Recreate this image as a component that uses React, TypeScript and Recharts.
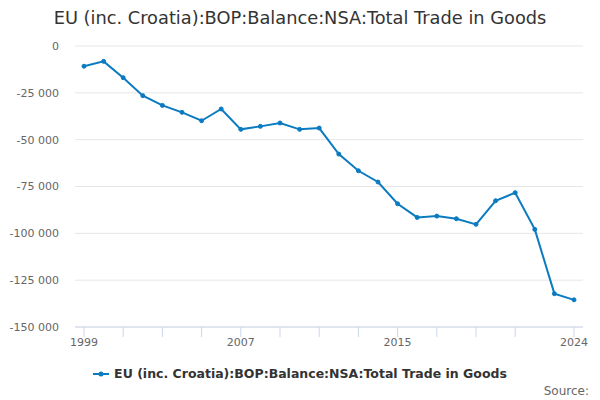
import React from 'react';
import { LineChart, Line, XAxis, YAxis, CartesianGrid } from 'recharts';

const years = [1999, 2000, 2001, 2002, 2003, 2004, 2005, 2006, 2007, 2008, 2009, 2010, 2011, 2012, 2013, 2014, 2015, 2016, 2017, 2018, 2019, 2020, 2021, 2022, 2023, 2024];
const balance = [-10800, -8200, -16900, -26500, -31700, -35400, -39900, -33600, -44500, -42900, -41100, -44500, -43800, -57700, -66600, -72600, -84200, -91500, -90800, -92200, -95200, -82600, -78300, -97900, -132200, -135500];
const xTicks = [1999, 2001, 2003, 2005, 2007, 2009, 2011, 2013, 2015, 2017, 2019, 2021, 2024];
const xLabels = [1999, 2007, 2015, 2024];
const yTicks = [0, -25000, -50000, -75000, -100000, -125000, -150000];
const seriesName = 'EU (inc. Croatia):BOP:Balance:NSA:Total Trade in Goods';
const titleText = 'EU (inc. Croatia):BOP:Balance:NSA:Total Trade in Goods';

const data = years.map((y, i) => ({ year: y, value: balance[i] }));

const fmt = (v: number) => {
  const s = String(Math.abs(v)).replace(/\B(?=(\d{3})+(?!\d))/g, ' ');
  return (v < 0 ? '-' : '') + s;
};

const FONT = '"DejaVu Sans", sans-serif';
const COLOR = '#0a7bc1';

export default function App() {
  return (
    <div style={{ position: 'absolute', left: 0, top: 0, width: 600, height: 400, background: '#fff', fontFamily: FONT }}>
      <div style={{ position: 'absolute', top: 7, left: 0, width: 600, textAlign: 'center', fontSize: 17.8, color: '#333' }}>
        {titleText}
      </div>
      <div style={{ position: 'absolute', left: 0, top: 0 }}>
        <LineChart width={600} height={400} data={data} margin={{ top: 46, right: 17, bottom: 43, left: 0 }}>
          <CartesianGrid vertical={false} stroke="#e6e6e6" />
          <XAxis
            dataKey="year"
            type="category"
            ticks={xTicks}
            interval={0}
            tickFormatter={(v: number) => (xLabels.includes(v) ? String(v) : '')}
            padding={{ left: 9, right: 9 }}
            axisLine={{ stroke: '#ccd6eb' }}
            tickLine={{ stroke: '#ccd6eb' }}
            tickSize={10}
            height={30}
            tick={{ fill: '#666', fontSize: 11, fontFamily: FONT }}
            tickMargin={1}
          />
          <YAxis
            type="number"
            domain={[-150000, 0]}
            ticks={yTicks}
            interval={0}
            tickFormatter={fmt}
            axisLine={false}
            tickLine={false}
            width={75}
            tickMargin={10}
            tick={{ fill: '#666', fontSize: 11, fontFamily: FONT }}
          />
          <Line
            type="linear"
            dataKey="value"
            name={seriesName}
            stroke={COLOR}
            strokeWidth={2}
            dot={{ r: 2, fill: COLOR, stroke: COLOR, strokeWidth: 1 }}
            isAnimationActive={false}
          />
        </LineChart>
      </div>
      <div style={{ position: 'absolute', top: 366, left: 0, width: 600, display: 'flex', justifyContent: 'center', alignItems: 'center' }}>
        <svg width={16} height={12} style={{ marginRight: 5 }}>
          <line x1={0} y1={6} x2={16} y2={6} stroke={COLOR} strokeWidth={2} />
          <circle cx={8} cy={6} r={2.5} fill={COLOR} />
        </svg>
        <span style={{ fontSize: 12.5, fontWeight: 'bold', color: '#333' }}>{seriesName}</span>
      </div>
      <div style={{ position: 'absolute', top: 384, right: 11, fontSize: 12, color: '#666' }}>Source:</div>
    </div>
  );
}
